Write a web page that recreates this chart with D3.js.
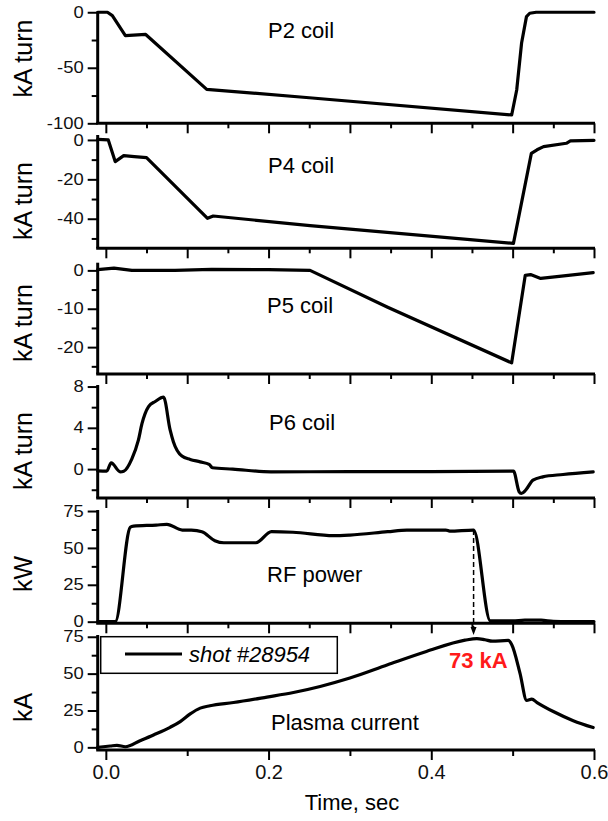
<!DOCTYPE html>
<html>
<head>
<meta charset="utf-8">
<script src="https://cdn.jsdelivr.net/npm/d3@7/dist/d3.min.js"></script>
<style>
  html, body { margin: 0; padding: 0; background: #fff; }
  svg { display: block; font-family: Arial, "Liberation Sans", sans-serif; }
</style>
</head>
<body>
<svg id="chart" width="608" height="821"></svg>
<script>
// ---------------- DATA ----------------
const panelTitles = ["P2 coil", "P4 coil", "P5 coil", "P6 coil", "RF power", "Plasma current"];
const yAxisTitles = ["kA turn", "kA turn", "kA turn", "kA turn", "kW", "kA"];
const xAxisTitle = "Time, sec";
const legendText = "shot #28954";
const peakText = "73 kA";
const peakTime = 0.452;

const timeP2 = [-0.01, 0.002, 0.008, 0.024, 0.049, 0.124, 0.25, 0.4988, 0.505, 0.511, 0.517, 0.521, 0.529, 0.6];
const valP2  = [0, 0, -3, -21, -20, -69.4, -77, -92.5, -70, -27.7, -3.9, -0.9, 0, 0];

const timeP4 = [-0.01, 0.003, 0.0115, 0.022, 0.035, 0.05, 0.125, 0.132, 0.251, 0.501, 0.523, 0.53, 0.538, 0.566, 0.571, 0.6];
const valP4  = [0.3, 0, -11, -8, -8.5, -9, -39.8, -38.6, -43.5, -52.5, -6.8, -5, -3.4, -1.7, -0.5, -0.2];

const timeP5 = [-0.01, 0.01, 0.032, 0.085, 0.13, 0.2, 0.251, 0.3464, 0.4988, 0.5155, 0.522, 0.5345, 0.56, 0.599];
const valP5  = [0.2, 0.6, 0, 0, 0.25, 0.2, 0, -9.6, -24.1, -1.3, -1.1, -2.1, -1.5, -0.6];

const timeP6 = [-0.01, 0.001, 0.0066, 0.0177, 0.022, 0.032, 0.04, 0.0444, 0.0525, 0.0607, 0.0709, 0.079, 0.083, 0.0935, 0.1037, 0.116, 0.127, 0.131, 0.156, 0.203, 0.3, 0.4, 0.501, 0.508, 0.5107, 0.516, 0.525, 0.537, 0.562, 0.599];
const valP6  = [-0.17, -0.2, 0.6, -0.26, -0.2, 1.0, 2.8, 4.4, 6.06, 6.55, 6.97, 3.8, 2.66, 1.26, 0.94, 0.7, 0.45, 0.13, 0, -0.26, -0.25, -0.25, -0.2, -2.2, -2.36, -2.04, -1.07, -0.75, -0.52, -0.26];

const timeRF = [-0.01, 0.0116, 0.030, 0.034, 0.062, 0.075, 0.094, 0.105, 0.118, 0.134, 0.145, 0.1845, 0.2036, 0.23, 0.2797, 0.30, 0.3464, 0.37, 0.418, 0.4226, 0.452, 0.4726, 0.5, 0.515, 0.535, 0.55, 0.6];
const valRF  = [0, 0, 64, 64.8, 65.5, 66, 62.1, 62, 61, 54.9, 53.5, 53.5, 61, 60.6, 58.3, 58.7, 61, 62.1, 62.1, 61.4, 62.1, 0.5, 0.5, 1, 1, 0.3, 0];

const timeIp = [-0.01, 0.0054, 0.0136, 0.024, 0.042, 0.0586, 0.079, 0.0914, 0.1037, 0.116, 0.128, 0.157, 0.198, 0.2306, 0.2634, 0.30, 0.3464, 0.394, 0.4415, 0.456, 0.466, 0.475, 0.4947, 0.4988, 0.509, 0.5173, 0.5235, 0.53, 0.55, 0.5745, 0.599];
const valIp  = [0, 0.9, 1.4, 0.4, 4.5, 8.4, 13.6, 17.5, 22.7, 26.6, 28.2, 30.4, 34.1, 37.2, 41.3, 47, 56, 65, 72.7, 73.8, 73, 72, 72.5, 69.7, 50.4, 31.8, 32.7, 30.4, 24.3, 18.1, 13.4];

const domainP2 = [-100, 0.5], domainP4 = [-55, 2.5], domainP5 = [-27, 2];
const domainP6 = [-2.8, 8.15], domainRF = [-1.1, 75.7], domainIp = [-1.8, 76.2];

const majorP2 = [0, -50, -100], minorP2 = [-25, -75];
const majorP4 = [0, -20, -40],  minorP4 = [-10, -30, -50];
const majorP5 = [0, -10, -20],  minorP5 = [-5, -15, -25];
const majorP6 = [8, 4, 0],      minorP6 = [6, 2, -2];
const majorRF = [0, 25, 50, 75], minorRF = [12.5, 37.5, 62.5];
const majorIp = [0, 25, 50, 75], minorIp = [12.5, 37.5, 62.5];

const xDomain = [-0.01, 0.6];
const xMajorUpper = [0, 0.1, 0.2, 0.3, 0.4, 0.5, 0.6];
const xMinorUpper = [0.05, 0.15, 0.25, 0.35, 0.45, 0.55];
const xMajorBottom = [0, 0.2, 0.4, 0.6];
const xMinorBottom = [0.1, 0.3, 0.5];

// ---------------- LAYOUT ----------------
const svg = d3.select("#chart");
const X0 = 97.7, X1 = 594;
const x = d3.scaleLinear().domain(xDomain).range([X0, X1]);

const series = [
  {t: timeP2, v: valP2, dom: domainP2, maj: majorP2, min: minorP2, curve: d3.curveLinear},
  {t: timeP4, v: valP4, dom: domainP4, maj: majorP4, min: minorP4, curve: d3.curveLinear},
  {t: timeP5, v: valP5, dom: domainP5, maj: majorP5, min: minorP5, curve: d3.curveLinear},
  {t: timeP6, v: valP6, dom: domainP6, maj: majorP6, min: minorP6, curve: d3.curveMonotoneX},
  {t: timeRF, v: valRF, dom: domainRF, maj: majorRF, min: minorRF, curve: d3.curveMonotoneX},
  {t: timeIp, v: valIp, dom: domainIp, maj: majorIp, min: minorIp, curve: d3.curveMonotoneX}
];
const layout = [
  {top: 11.7, bottom: 123.3, titleX: 268, titleY: 38, labelY: 58.5},
  {top: 135, bottom: 248.3, titleX: 268, titleY: 173, labelY: 201},
  {top: 262.7, bottom: 374, titleX: 267, titleY: 313, labelY: 323},
  {top: 385, bottom: 498, titleX: 269, titleY: 430, labelY: 451},
  {top: 510, bottom: 623.3, titleX: 267, titleY: 582, labelY: 574},
  {top: 635, bottom: 750, titleX: 271, titleY: 730, labelY: 707.5}
];

const fmt = d => String(d);
const scales = [];

series.forEach((s, i) => {
  const L = layout[i];
  const y = d3.scaleLinear().domain(s.dom).range([L.bottom, L.top]);
  scales.push(y);
  const g = svg.append("g");
  const isLast = i === series.length - 1;

  // x axis (bottom)
  const xMaj = isLast ? xMajorBottom : xMajorUpper;
  const xMin = isLast ? xMinorBottom : xMinorUpper;
  const gxMin = g.append("g").attr("transform", `translate(0,${L.bottom})`)
    .call(d3.axisBottom(x).tickValues(xMin).tickSize(isLast ? 6 : 5).tickSizeOuter(0).tickFormat(""));
  gxMin.select(".domain").remove();
  const gx = g.append("g").attr("transform", `translate(0,${L.bottom})`)
    .call(d3.axisBottom(x).tickValues(xMaj).tickSize(10).tickSizeOuter(0)
      .tickPadding(5).tickFormat(isLast ? d3.format(".1f") : ""));
  gx.select(".domain").attr("stroke-width", 3).attr("d", `M${X0 - 1.5},0H${X1 + 1}`);
  gx.selectAll("text").attr("font-size", 20).attr("fill", "#111")
    .attr("font-family", "Arial, 'Liberation Sans', sans-serif");

  // y axis (left)
  const gyMin = g.append("g").attr("transform", `translate(${X0},0)`)
    .call(d3.axisLeft(y).tickValues(s.min).tickSize(6).tickSizeOuter(0).tickFormat(""));
  gyMin.select(".domain").remove();
  const gy = g.append("g").attr("transform", `translate(${X0},0)`)
    .call(d3.axisLeft(y).tickValues(s.maj).tickSize(10).tickSizeOuter(0).tickPadding(4).tickFormat(fmt));
  gy.select(".domain").attr("stroke-width", 3).attr("d", `M0,${L.top}V${L.bottom}`);
  gy.selectAll("text").attr("font-size", 16).attr("fill", "#111")
    .attr("font-family", "Arial, 'Liberation Sans', sans-serif")
    .each(function() {
      const w = this.getComputedTextLength();
      d3.select(this).attr("textLength", w * 1.15).attr("lengthAdjust", "spacingAndGlyphs");
    });
  g.selectAll(".tick line").attr("stroke-width", 2);

  // data line
  const pts = s.t.map((t, k) => [t, s.v[k]]);
  g.append("path").datum(pts)
    .attr("fill", "none").attr("stroke", "#000").attr("stroke-width", 3.2)
    .attr("stroke-linejoin", "round").attr("stroke-linecap", "round")
    .attr("d", d3.line().curve(s.curve).x(d => x(d[0])).y(d => y(d[1])));

  // panel title
  g.append("text").attr("x", L.titleX).attr("y", L.titleY)
    .attr("font-size", 22).attr("fill", "#000").text(panelTitles[i]);

  // y axis title
  g.append("text").attr("transform", `translate(32,${L.labelY}) rotate(-90)`)
    .attr("text-anchor", "middle").attr("font-size", 25).attr("fill", "#000")
    .text(yAxisTitles[i]);
});

// x axis title
svg.append("text").attr("x", 352).attr("y", 810).attr("text-anchor", "middle")
  .attr("font-size", 22).attr("fill", "#000").text(xAxisTitle);

// dashed marker from RF power to plasma current peak
const yRF = scales[4], yIp = scales[5];
const rfAtPeak = valRF[timeRF.indexOf(peakTime)];
const tipY = yIp(domainIp[1]);
svg.append("line")
  .attr("x1", x(peakTime)).attr("x2", x(peakTime))
  .attr("y1", yRF(rfAtPeak)).attr("y2", tipY - 6)
  .attr("stroke", "#000").attr("stroke-width", 1.5).attr("stroke-dasharray", "5,3");
svg.append("path")
  .attr("d", `M${x(peakTime) - 3},${tipY - 8}L${x(peakTime) + 3},${tipY - 8}L${x(peakTime)},${tipY}Z`)
  .attr("fill", "#000");

// 73 kA label
svg.append("text").attr("x", 449).attr("y", 668)
  .attr("font-size", 22).attr("font-weight", "bold").attr("fill", "#ff1a1a").text(peakText);

// legend
const lg = svg.append("g");
lg.append("rect").attr("x", 100.7).attr("y", 636.7).attr("width", 236.6).attr("height", 36.6)
  .attr("fill", "#fff").attr("stroke", "#000").attr("stroke-width", 1.5);
lg.append("line").attr("x1", 125).attr("x2", 182).attr("y1", 654).attr("y2", 654)
  .attr("stroke", "#000").attr("stroke-width", 3);
lg.append("text").attr("x", 189).attr("y", 662).attr("font-size", 22)
  .attr("font-style", "italic").attr("fill", "#000").text(legendText);
</script>
</body>
</html>
